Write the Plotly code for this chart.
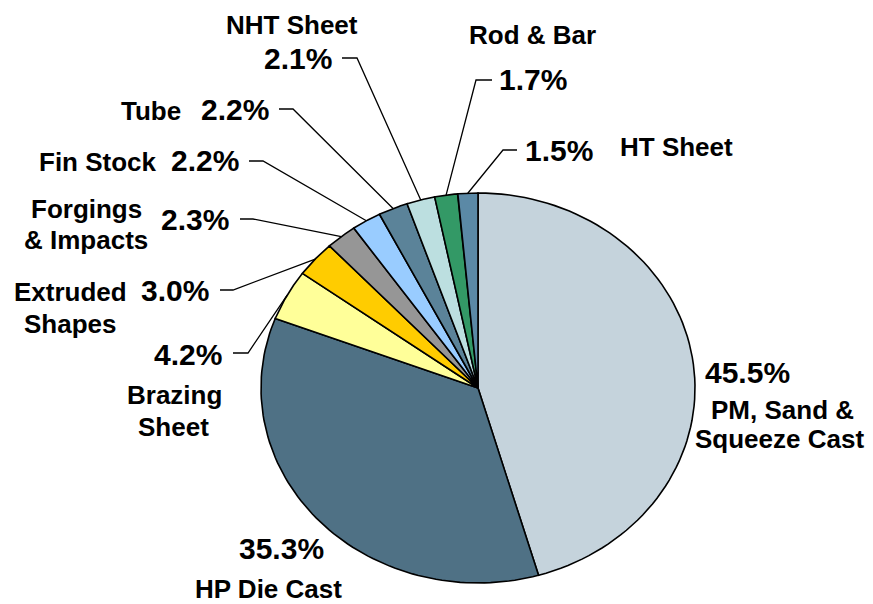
import numpy as np
import plotly.graph_objects as go

# share of shipments by product, clockwise from 12 o'clock
products = ["PM, Sand & Squeeze Cast", "HP Die Cast", "Brazing Sheet", "Extruded Shapes",
            "Forgings & Impacts", "Fin Stock", "Tube", "NHT Sheet", "Rod & Bar", "HT Sheet"]
shares = [45.5, 35.3, 4.2, 3.0, 2.3, 2.2, 2.2, 2.1, 1.7, 1.5]
colors = ["#C5D3DC", "#4F7185", "#FFFF99", "#FFCC00", "#969696",
          "#99CCFF", "#5B8399", "#BCDFE0", "#339966", "#5B89A6"]

# pie geometry in pixel space (the source pie is stretched into an ellipse)
cx, cy, rx, ry = 478, 388, 217, 195

fig = go.Figure()

total = sum(shares)
cum = np.concatenate([[0], np.cumsum(shares)]) / total * 2 * np.pi
mids = []
for i, name in enumerate(products):
    t = np.linspace(cum[i], cum[i + 1], 80)
    xs = np.concatenate([[cx], cx + rx * np.sin(t), [cx]])
    ys = np.concatenate([[cy], cy - ry * np.cos(t), [cy]])
    fig.add_trace(go.Scatter(x=xs, y=ys, mode="lines", fill="toself",
                             fillcolor=colors[i], line=dict(color="black", width=1.6),
                             hoverinfo="text", text=name, showlegend=False))
    m = (cum[i] + cum[i + 1]) / 2
    mids.append((cx + rx * np.sin(m), cy - ry * np.cos(m)))

# leader lines: slice index -> elbow point, end of horizontal tick
leaders = {
    2: ((248, 353), (233, 353)),
    3: ((233, 290), (220, 290)),
    4: ((253, 219), (240, 219)),
    5: ((263, 161), (249, 161)),
    6: ((293, 109), (279, 109)),
    7: ((357, 58), (342, 58)),
    8: ((476, 80), (492, 80)),
    9: ((503, 150), (517, 150)),
}
for i, (elbow, end) in leaders.items():
    sx, sy = mids[i]
    fig.add_trace(go.Scatter(x=[sx, elbow[0], end[0]], y=[sy, elbow[1], end[1]],
                             mode="lines", line=dict(color="black", width=1.3),
                             hoverinfo="skip", showlegend=False))

PCT = 30
NAME = 26
# percentage labels: (x, y, anchor)
pct_pos = [(703, 372, "left"), (281, 548, "center"), (224, 354, "right"), (211, 290, "right"),
           (231, 219, "right"), (241, 160, "right"), (271, 109, "right"), (334, 58, "right"),
           (497, 79, "left"), (523, 150, "left")]
for i, (x, y, anc) in enumerate(pct_pos):
    fig.add_annotation(x=x, y=y, text="<b>%.1f%%</b>" % shares[i], showarrow=False,
                       xanchor=anc, yanchor="middle", font=dict(size=PCT))

# the page puts the figure 8px in from the top-left corner; the axes ranges
# are set so that one unit is one window pixel
OFF = 8

# category name lines: (text, center x, y)
name_lines = [
    ("PM, Sand &", 782, 410), ("Squeeze Cast", 779, 439),
    ("HP Die Cast", 268, 589),
    ("Brazing", 174, 395), ("Sheet", 173, 427),
    ("Extruded", 70, 292), ("Shapes", 70, 324),
    ("Forgings", 86, 209), ("& Impacts", 86, 240),
    ("Fin Stock", 98, 162),
    ("Tube", 151, 111),
    ("Rod & Bar", 532, 35),
    ("HT Sheet", 676, 147),
]
for txt, x, y in name_lines:
    fig.add_annotation(x=x, y=y, text="<b>%s</b>" % txt, showarrow=False,
                       xanchor="center", yanchor="middle", font=dict(size=NAME))
# top label pinned to the top edge so its box stays inside the figure
fig.add_annotation(x=292, y=OFF, text="<b>NHT Sheet</b>", showarrow=False,
                   xanchor="center", yanchor="top", font=dict(size=NAME))

fig.update_xaxes(range=[OFF, 873], visible=False, fixedrange=True)
fig.update_yaxes(range=[604, OFF], visible=False, fixedrange=True)
fig.update_layout(width=873 - OFF, height=604 - OFF, margin=dict(l=0, r=0, t=0, b=0),
                  plot_bgcolor="white", paper_bgcolor="white",
                  font=dict(family="Liberation Sans, Arial, sans-serif", color="black"))

fig.write_html("out.html")
